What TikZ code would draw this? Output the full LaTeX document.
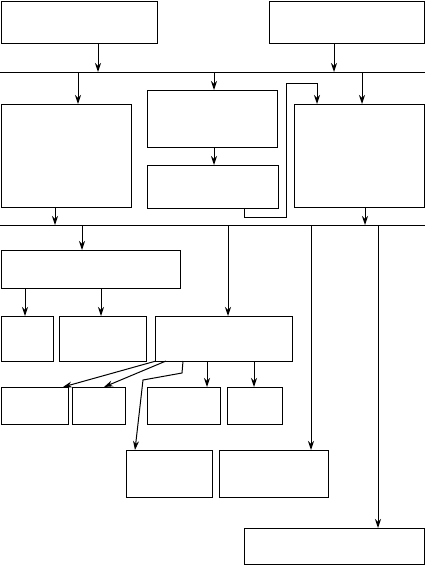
\documentclass[tikz,border=0pt]{standalone}
\usetikzlibrary{arrows.meta}
\begin{document}
\begin{tikzpicture}[x=1pt,y=-1pt, line width=1pt,
 box/.style={draw, rectangle, inner sep=0pt, anchor=north west},
 arr/.style={-{Stealth[length=9pt,width=6pt]}}]
\useasboundingbox (0,0) rectangle (425,565);
% boxes
\node[box,minimum width=156pt,minimum height=42pt] (A) at (1,1) {};
\node[box,minimum width=155pt,minimum height=42pt] (B) at (269,1) {};
\node[box,minimum width=130pt,minimum height=103pt] (L) at (1,104) {};
\node[box,minimum width=130pt,minimum height=57pt] (M1) at (147,90) {};
\node[box,minimum width=131pt,minimum height=43pt] (M2) at (147,165) {};
\node[box,minimum width=130pt,minimum height=103pt] (R) at (294,104) {};
\node[box,minimum width=179pt,minimum height=38pt] (W) at (1,250) {};
\node[box,minimum width=52pt,minimum height=45pt] (S1) at (1,316) {};
\node[box,minimum width=87pt,minimum height=45pt] (S2) at (59,316) {};
\node[box,minimum width=137pt,minimum height=45pt] (S3) at (155,316) {};
\node[box,minimum width=67pt,minimum height=37pt] (T1) at (1,387) {};
\node[box,minimum width=53pt,minimum height=37pt] (T2) at (72,387) {};
\node[box,minimum width=73pt,minimum height=37pt] (T3) at (147,387) {};
\node[box,minimum width=55pt,minimum height=37pt] (T4) at (227,387) {};
\node[box,minimum width=86pt,minimum height=47pt] (C1) at (126,450) {};
\node[box,minimum width=109pt,minimum height=47pt] (C2) at (219,450) {};
\node[box,minimum width=180pt,minimum height=36pt] (D) at (244,528) {};
% bus 1
\coordinate (bus1W) at (0,72);
\coordinate (bus1E) at (425,72);
\draw (bus1W) -- (bus1E);
\coordinate (b1a) at (98,72);
\coordinate (b1b) at (334,72);
\coordinate (b1c) at (78,72);
\coordinate (b1d) at (214,72);
\coordinate (b1e) at (362,72);
\draw[arr] (A.south -| b1a) -- (b1a);
\draw[arr] (B.south -| b1b) -- (b1b);
\draw[arr] (b1c) -- (L.north -| b1c);
\draw[arr] (b1d) -- (M1.north -| b1d);
\draw[arr] (b1e) -- (R.north -| b1e);
\draw[arr] (M1.south -| b1d) -- (M2.north -| b1d);
% loop from M2 to R
\coordinate (lp1) at (244,217);
\coordinate (lp2) at (286,217);
\coordinate (lp3) at (286,83);
\coordinate (lp4) at (317,83);
\draw[arr] (M2.south -| lp1) -- (lp1) -- (lp2) -- (lp3) -- (lp4) -- (R.north -| lp4);
% bus 2
\coordinate (bus2W) at (0,225);
\coordinate (bus2E) at (425,225);
\draw (bus2W) -- (bus2E);
\coordinate (b2a) at (55,225);
\coordinate (b2b) at (365,225);
\coordinate (b2c) at (82,225);
\coordinate (b2d) at (228,225);
\coordinate (b2e) at (311,225);
\coordinate (b2f) at (378,225);
\draw[arr] (L.south -| b2a) -- (b2a);
\draw[arr] (R.south -| b2b) -- (b2b);
\draw[arr] (b2c) -- (W.north -| b2c);
\draw[arr] (b2d) -- (S3.north -| b2d);
\draw[arr] (b2e) -- (C2.north -| b2e);
\draw[arr] (b2f) -- (D.north -| b2f);
% from W
\coordinate (wa) at (25,288);
\coordinate (wb) at (101,288);
\draw[arr] (wa) -- (S1.north -| wa);
\draw[arr] (wb) -- (S2.north -| wb);
% from S3
\coordinate (s3a) at (156,361);
\coordinate (s3b) at (166,361);
\coordinate (s3c) at (183,361);
\coordinate (s3d) at (207,361);
\coordinate (s3e) at (254,361);
\coordinate (t1in) at (63,387);
\coordinate (t2in) at (104,387);
\coordinate (k1) at (182,373);
\coordinate (k2) at (143,380);
\coordinate (c1in) at (135,450);
\draw[arr] (s3a) -- (t1in);
\draw[arr] (s3b) -- (t2in);
\draw[arr] (s3c) -- (k1) -- (k2) -- (c1in);
\draw[arr] (s3d) -- (T3.north -| s3d);
\draw[arr] (s3e) -- (T4.north -| s3e);
\end{tikzpicture}
\end{document}
